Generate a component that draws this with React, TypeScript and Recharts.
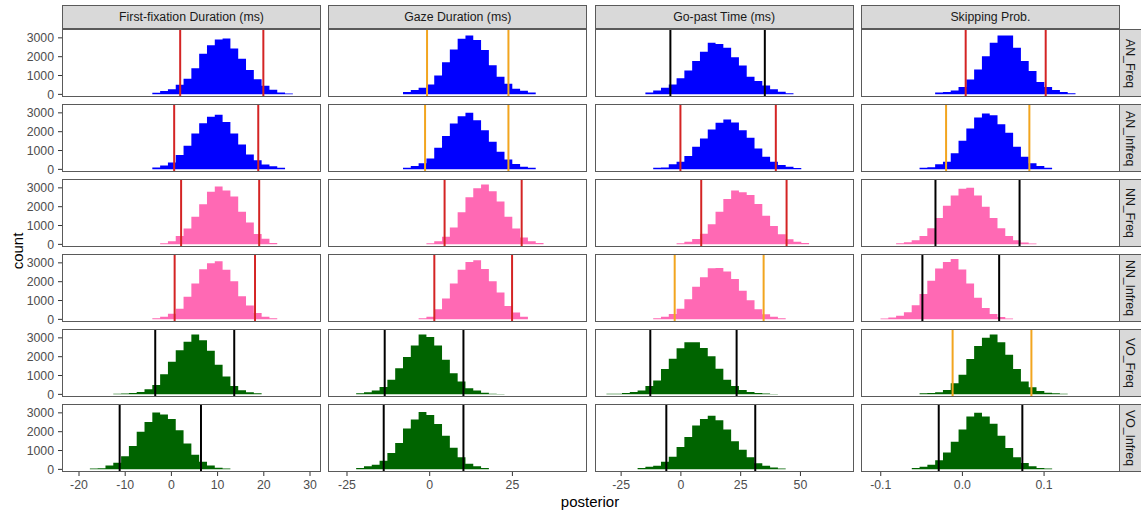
import React from "react";
import { ComposedChart, Area, XAxis, YAxis, ReferenceLine } from "recharts";

// ---------- facet labels ----------
const columnLabels = ["First-fixation Duration (ms)", "Gaze Duration (ms)", "Go-past Time (ms)", "Skipping Prob."];
const rowLabels = ["AN_Freq", "AN_Infreq", "NN_Freq", "NN_Infreq", "VO_Freq", "VO_Infreq"];
const rowFills = ["#0000FF", "#0000FF", "#FF69B4", "#FF69B4", "#006400", "#006400"];

// ---------- axes ----------
const xDomains: [number, number][] = [[-23.68, 32.38], [-30.74, 47.55], [-35.93, 72.4], [-0.1242, 0.193]];
const xTicks = [[-20, -10, 0, 10, 20, 30], [-25, 0, 25], [-25, 0, 25, 50], [-0.1, 0, 0.1]];
const yTicks = [0, 1000, 2000, 3000];
const yDomain: [number, number] = [-140, 3470];

// histogram bin widths per column
const binWidths = [1.69, 2.36, 3.26, 0.00955];
// left edge of first bin [row][col]
const binStarts = [
  [-4.13, -8.07, -14.85, -0.0334],
  [-4.13, -8.07, -11.59, -0.0525],
  [-2.44, -0.99, -1.81, -0.0812],
  [-4.13, -3.35, -11.59, -0.1003],
  [-12.58, -22.23, -31.15, -0.0525],
  [-17.65, -22.23, -18.11, -0.062],
];

// ---------- counts: First-fixation Duration ----------
const ffd_AN_Freq = [90, 175, 265, 510, 830, 1390, 2150, 2610, 2910, 2965, 2440, 1890, 1290, 800, 460, 250, 100, 40];
const ffd_AN_Infreq = [100, 210, 370, 760, 1250, 1900, 2450, 2790, 2900, 2510, 1900, 1320, 790, 480, 260, 160, 80];
const ffd_NN_Freq = [55, 160, 450, 840, 1460, 2125, 2790, 3070, 2860, 2540, 1730, 1160, 550, 300, 70];
const ffd_NN_Infreq = [55, 140, 300, 570, 1200, 1910, 2660, 2980, 3090, 2630, 2020, 1230, 730, 340, 140, 55];
const ffd_VO_Freq = [30, 40, 70, 125, 270, 500, 1070, 1730, 2340, 2790, 3180, 2875, 2320, 1570, 950, 450, 215, 110, 55];
const ffd_VO_Infreq = [50, 60, 200, 350, 690, 1240, 2000, 2520, 3020, 2910, 2680, 2080, 1370, 780, 410, 200, 90, 50];

// ---------- counts: Gaze Duration ----------
const gd_AN_Freq = [125, 230, 350, 530, 1000, 1710, 2380, 2950, 3120, 2880, 2350, 1550, 935, 565, 300, 195, 105];
const gd_AN_Infreq = [90, 175, 320, 580, 1150, 1765, 2435, 2825, 3000, 2610, 2080, 1465, 935, 530, 280, 140, 90];
const gd_NN_Freq = [55, 160, 410, 890, 1700, 2500, 2980, 3180, 2820, 2270, 1465, 840, 360, 160, 70];
const gd_NN_Infreq = [55, 140, 535, 1110, 1910, 2640, 3040, 3140, 2680, 2020, 1430, 715, 360, 140];
const gd_VO_Freq = [55, 110, 200, 390, 770, 1390, 1980, 2590, 3180, 3050, 2590, 1840, 1125, 680, 320, 200, 90, 30, 20];
const gd_VO_Infreq = [70, 160, 250, 460, 870, 1400, 2170, 2645, 3050, 2890, 2410, 1790, 1150, 640, 300, 160, 70];

// ---------- counts: Go-past Time ----------
const gpt_AN_Freq = [105, 210, 350, 530, 850, 1270, 1765, 2260, 2735, 2680, 2470, 1975, 1535, 935, 705, 475, 265, 140, 60];
const gpt_AN_Infreq = [90, 100, 265, 405, 705, 1200, 1640, 2120, 2470, 2650, 2490, 2080, 1680, 1110, 670, 405, 230, 140, 70];
const gpt_NN_Freq = [55, 140, 285, 570, 1070, 1730, 2410, 2860, 2770, 2625, 2140, 1520, 980, 535, 270, 140, 70];
const gpt_NN_Infreq = [55, 140, 285, 570, 1070, 1730, 2230, 2715, 2730, 2535, 2140, 1520, 1020, 535, 270, 140, 55];
const gpt_VO_Freq = [30, 35, 70, 125, 200, 450, 730, 1340, 1890, 2450, 2770, 2770, 2465, 2020, 1360, 770, 450, 230, 125, 70, 40, 25];
const gpt_VO_Infreq = [70, 140, 195, 410, 675, 1190, 1720, 2325, 2680, 2840, 2610, 2110, 1490, 1045, 640, 320, 195, 105, 50];

// ---------- counts: Skipping Prob. ----------
const sp_AN_Freq = [105, 125, 210, 390, 795, 1325, 2030, 2735, 3125, 3125, 2470, 1765, 1235, 650, 390, 230, 125, 60];
const sp_AN_Infreq = [90, 110, 265, 405, 850, 1520, 2170, 2755, 2965, 2875, 2400, 1940, 1200, 670, 320, 180, 90];
const sp_NN_Freq = [55, 110, 220, 450, 850, 1400, 2050, 2600, 2950, 3000, 2600, 2000, 1400, 850, 450, 220, 100, 50];
const sp_NN_Infreq = [50, 100, 190, 380, 750, 1350, 2050, 2700, 3050, 3200, 2650, 1900, 1150, 600, 280, 120, 50];
const sp_VO_Freq = [55, 70, 110, 230, 590, 1035, 1875, 2570, 3000, 3180, 2770, 2100, 1340, 680, 375, 180, 90, 55, 35];
const sp_VO_Infreq = [70, 140, 250, 480, 900, 1460, 2110, 2800, 3000, 2800, 2415, 1790, 1135, 640, 340, 160, 70, 50];

// ---------- interval lines [row][col] ----------
const intervalLow = [
  [1.9, -0.8, -4.4, 0.004],
  [0.6, -1.4, -0.2, -0.02],
  [2.1, 4.5, 8.5, -0.033],
  [0.7, 1.4, -2.6, -0.049],
  [-3.5, -13.6, -12.8, -0.012],
  [-11.2, -13.9, -6.1, -0.029],
];
const intervalHigh = [
  [19.9, 23.8, 35.1, 0.102],
  [18.8, 23.8, 39.7, 0.082],
  [19.0, 27.8, 44.2, 0.07],
  [18.1, 24.9, 34.6, 0.045],
  [13.6, 10.2, 23.3, 0.0845],
  [6.4, 10.2, 31.1, 0.0734],
];
const RED = "#D42424";
const ORANGE = "#F2A51F";
const BLACK = "#000000";
const intervalColors = [
  [RED, ORANGE, BLACK, RED],
  [RED, ORANGE, RED, ORANGE],
  [RED, RED, RED, BLACK],
  [RED, RED, ORANGE, BLACK],
  [BLACK, BLACK, BLACK, ORANGE],
  [BLACK, BLACK, BLACK, BLACK],
];

const countsGrid = [
  [ffd_AN_Freq, gd_AN_Freq, gpt_AN_Freq, sp_AN_Freq],
  [ffd_AN_Infreq, gd_AN_Infreq, gpt_AN_Infreq, sp_AN_Infreq],
  [ffd_NN_Freq, gd_NN_Freq, gpt_NN_Freq, sp_NN_Freq],
  [ffd_NN_Infreq, gd_NN_Infreq, gpt_NN_Infreq, sp_NN_Infreq],
  [ffd_VO_Freq, gd_VO_Freq, gpt_VO_Freq, sp_VO_Freq],
  [ffd_VO_Infreq, gd_VO_Infreq, gpt_VO_Infreq, sp_VO_Infreq],
];

// ---------- layout ----------
const PANEL_W = 259;
const PANEL_H = 68;
const LEFT0 = 62;
const COL_STEP = 266.3;
const TOP0 = 29.3;
const ROW_STEP = 75;
const Y_AXIS_W = 62;
const X_AXIS_H = 30;
const PAD = 8;
const BORDER = "#5a5a5a";
const FONT = "'Liberation Sans', Arial, Helvetica, sans-serif";
const SMALL = 12.3;

function Panel({ r, c }: { r: number; c: number }) {
  const counts = countsGrid[r][c];
  const start = binStarts[r][c];
  const bw = binWidths[c];
  const data = counts.map((v, i) => ({ x: start + i * bw, count: v }));
  data.push({ x: start + counts.length * bw, count: counts[counts.length - 1] });

  const panelLeft = LEFT0 + c * COL_STEP;
  const panelTop = TOP0 + r * ROW_STEP;
  const firstCol = c === 0;
  const lastRow = r === rowLabels.length - 1;
  const w = PANEL_W + (firstCol ? Y_AXIS_W : 0);
  const padBottom = lastRow ? 0 : PAD;
  const h = PAD + PANEL_H + padBottom + (lastRow ? X_AXIS_H : 0);
  const left = firstCol ? panelLeft - Y_AXIS_W : panelLeft;
  const fmt = (v: number) => (c === 3 ? v.toFixed(1) : String(v));

  return (
    <>
      <div style={{ position: "absolute", left, top: panelTop - PAD, width: w, height: h }}>
        <ComposedChart width={w} height={h} data={data} margin={{ top: PAD, right: 0, bottom: padBottom, left: 0 }}>
          <XAxis
            type="number"
            dataKey="x"
            domain={xDomains[c]}
            ticks={xTicks[c]}
            allowDataOverflow
            hide={!lastRow}
            height={X_AXIS_H}
            interval={0}
            axisLine={false}
            tickSize={4}
            tickMargin={4}
            tickLine={{ stroke: "#333333" }}
            tick={{ fill: "#4D4D4D", fontSize: SMALL, fontFamily: FONT }}
            tickFormatter={fmt}
          />
          <YAxis
            type="number"
            domain={yDomain}
            ticks={yTicks}
            allowDataOverflow
            hide={!firstCol}
            width={Y_AXIS_W}
            interval={0}
            axisLine={false}
            tickSize={4}
            tickMargin={4}
            tickLine={{ stroke: "#333333" }}
            tick={{ fill: "#4D4D4D", fontSize: SMALL, fontFamily: FONT }}
          />
          <Area
            type="stepAfter"
            dataKey="count"
            fill={rowFills[r]}
            fillOpacity={1}
            stroke="none"
            baseValue={0}
            isAnimationActive={false}
          />
          <ReferenceLine x={intervalLow[r][c]} stroke={intervalColors[r][c]} strokeWidth={2} />
          <ReferenceLine x={intervalHigh[r][c]} stroke={intervalColors[r][c]} strokeWidth={2} />
        </ComposedChart>
      </div>
      <div
        style={{
          position: "absolute",
          left: panelLeft,
          top: panelTop,
          width: PANEL_W,
          height: PANEL_H,
          border: `1px solid ${BORDER}`,
          boxSizing: "border-box",
          pointerEvents: "none",
        }}
      />
    </>
  );
}

export default function App() {
  return (
    <div
      style={{
        position: "absolute",
        left: 0,
        top: 0,
        width: 1141,
        height: 512,
        background: "#FFFFFF",
        fontFamily: FONT,
        overflow: "hidden",
      }}
    >
      {columnLabels.map((label, c) => (
        <div
          key={label}
          style={{
            position: "absolute",
            left: LEFT0 + c * COL_STEP,
            top: 5,
            width: PANEL_W,
            height: TOP0 - 5,
            background: "#D9D9D9",
            border: `1px solid ${BORDER}`,
            boxSizing: "border-box",
            display: "flex",
            alignItems: "center",
            justifyContent: "center",
            fontSize: SMALL,
            color: "#1A1A1A",
          }}
        >
          {label}
        </div>
      ))}
      {rowLabels.map((label, r) => (
        <div
          key={label}
          style={{
            position: "absolute",
            left: LEFT0 + 3 * COL_STEP + PANEL_W,
            top: TOP0 + r * ROW_STEP,
            width: 24,
            height: PANEL_H,
            background: "#D9D9D9",
            border: `1px solid ${BORDER}`,
            borderLeft: "none",
            boxSizing: "border-box",
            display: "flex",
            alignItems: "center",
            justifyContent: "flex-start",
            paddingLeft: 3,
            fontSize: SMALL,
            color: "#1A1A1A",
          }}
        >
          <span style={{ writingMode: "vertical-rl", whiteSpace: "nowrap" }}>{label}</span>
        </div>
      ))}
      {rowLabels.map((_, r) =>
        columnLabels.map((__, c) => <Panel key={`${r}-${c}`} r={r} c={c} />)
      )}
      <div
        style={{
          position: "absolute",
          left: 18 - 30,
          top: 251 - 10,
          width: 60,
          height: 20,
          transform: "rotate(-90deg)",
          textAlign: "center",
          fontSize: 15,
          lineHeight: "20px",
          color: "#000",
        }}
      >
        count
      </div>
      <div
        style={{
          position: "absolute",
          left: 590 - 50,
          top: 502 - 10,
          width: 100,
          height: 20,
          textAlign: "center",
          fontSize: 15,
          lineHeight: "20px",
          color: "#000",
        }}
      >
        posterior
      </div>
    </div>
  );
}
